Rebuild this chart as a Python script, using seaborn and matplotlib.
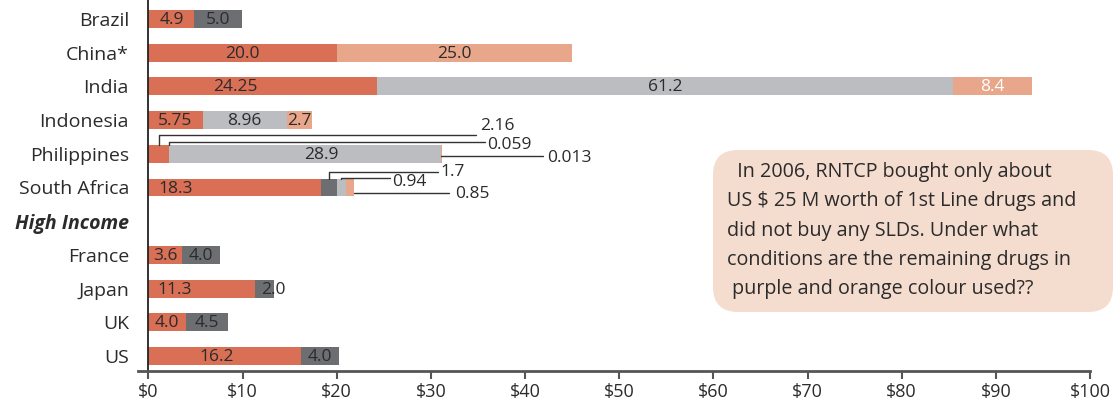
import matplotlib
matplotlib.use("Agg")
import matplotlib.pyplot as plt
from matplotlib.patches import FancyBboxPatch
import seaborn as sns
import pandas as pd

countries = ["Brazil", "China*", "India", "Indonesia", "Philippines",
             "South Africa", "High Income", "France", "Japan", "UK", "US"]
first_line = [4.9, 20.0, 24.25, 5.75, 2.16, 18.3, 0, 3.6, 11.3, 4.0, 16.2]
second_a = [5.0, 0, 0, 0, 0.059, 1.7, 0, 4.0, 2.0, 4.5, 4.0]
second_b = [0, 0, 61.2, 8.96, 28.9, 0.94, 0, 0, 0, 0, 0]
other = [0, 25.0, 8.4, 2.7, 0.013, 0.85, 0, 0, 0, 0, 0]
x_ticks = [0, 10, 20, 30, 40, 50, 60, 70, 80, 90, 100]
headers = ["High Income"]
note = ("  In 2006, RNTCP bought only about\n"
        "US $ 25 M worth of 1st Line drugs and\n"
        "did not buy any SLDs. Under what\n"
        "conditions are the remaining drugs in\n"
        " purple and orange colour used??")

colors = ["#D96F55", "#6D6E71", "#BCBDC0", "#E8A68B"]
series = [first_line, second_a, second_b, other]

df = pd.DataFrame({"country": countries, "s0": first_line, "s1": second_a,
                   "s2": second_b, "s3": other})
df["c0"] = df["s0"]
df["c1"] = df["c0"] + df["s1"]
df["c2"] = df["c1"] + df["s2"]
df["c3"] = df["c2"] + df["s3"]

sns.set_theme(style="white")
plt.rcParams["font.family"] = ["Open Sans", "DejaVu Sans"]
txt = "#2b2b2b"

fig = plt.figure(figsize=(11.15, 4.03), dpi=100)
ax = fig.add_axes([138 / 1115, 32 / 403, (1090 - 138) / 1115, 387.4 / 403])

# stacked bars: draw cumulative totals, longest first
for k in [3, 2, 1, 0]:
    sns.barplot(data=df, y="country", x=f"c{k}", orient="h", order=countries,
                color=colors[k], saturation=1, width=0.53, linewidth=0, ax=ax)

ax.set_xlim(-1.1, 100)
ax.set_ylim(10.445, -1.05)
ax.set_xlabel("")
ax.set_ylabel("")


def fmt(v):
    s = f"{v:.3f}".rstrip("0")
    return s + "0" if s.endswith(".") else s


ph = countries.index("Philippines")
sa = countries.index("South Africa")
# thin segments get leader lines instead of inline labels
leader = {(ph, 0), (ph, 1), (ph, 3), (sa, 1), (sa, 2), (sa, 3)}
white_label = {(countries.index("India"), 3)}
# labels that sit off the segment centre in the original
label_pos = {("China*", 1): 33.4, ("India", 0): 9.2, ("India", 1): 45.1,
             ("Philippines", 2): 18.4, ("South Africa", 0): 2.9,
             ("Japan", 0): 2.8, ("Japan", 1): 13.3, ("US", 0): 7.3}
for i, c in enumerate(countries):
    left = 0
    for k, vals in enumerate(series):
        v = vals[i]
        if v > 0 and (i, k) not in leader:
            xpos = label_pos.get((c, k), left + v / 2)
            ax.text(xpos, i + 0.03, fmt(v), ha="center", va="center",
                    fontsize=12.5, color="white" if (i, k) in white_label else txt)
        left += v

lw = dict(color="#333333", lw=1.0)
top = 0.265
fs = 12.5
# Philippines 2.16
x0 = first_line[ph] / 2
ax.plot([x0, x0, 34.8], [ph - top, ph - 0.56, ph - 0.56], **lw)
ax.text(35.2, ph - 0.58, fmt(first_line[ph]), ha="left", va="bottom", fontsize=fs, color=txt)
# Philippines 0.059
x0 = first_line[ph] + second_a[ph] / 2
ax.plot([x0, x0, 35.8], [ph - top, ph - 0.35, ph - 0.35], **lw)
ax.text(36.0, ph - 0.26, fmt(second_a[ph]), ha="left", va="center", fontsize=fs, color=txt)
# Philippines 0.013
x0 = first_line[ph] + second_a[ph] + second_b[ph]
ax.plot([x0, 41.9], [ph + 0.07, ph + 0.07], **lw)
ax.text(42.4, ph + 0.12, fmt(other[ph]), ha="left", va="center", fontsize=fs, color=txt)
# South Africa 1.7
x0 = first_line[sa] + second_a[sa] / 2
ax.plot([x0, x0, 30.8], [sa - top, sa - 0.46, sa - 0.46], **lw)
ax.text(31.0, sa - 0.46, fmt(second_a[sa]), ha="left", va="center", fontsize=fs, color=txt)
# South Africa 0.94
x0 = first_line[sa] + second_a[sa] + second_b[sa] / 2
ax.plot([x0, x0, 25.7], [sa - top, sa - 0.28, sa - 0.28], **lw)
ax.text(25.9, sa - 0.16, fmt(second_b[sa]), ha="left", va="center", fontsize=fs, color=txt)
# South Africa 0.85
x0 = first_line[sa] + second_a[sa] + second_b[sa] + other[sa]
ax.plot([x0, 31.9], [sa + 0.16, sa + 0.16], **lw)
ax.text(32.6, sa + 0.19, fmt(other[sa]), ha="left", va="center", fontsize=fs, color=txt)

# axes styling
for s in ["top", "right"]:
    ax.spines[s].set_visible(False)
ax.spines["left"].set_position(("data", 0))
ax.spines["left"].set_color("#222222")
ax.spines["left"].set_linewidth(1.3)
ax.spines["bottom"].set_color("#555555")
ax.spines["bottom"].set_linewidth(2)
ax.set_xticks(x_ticks)
ax.set_xticklabels([f"${t}" for t in x_ticks], fontsize=13, color=txt)
ax.tick_params(axis="x", direction="out", length=6, width=1.5, color="#555555", pad=3, bottom=True)
ax.tick_params(axis="y", length=0, pad=14)
for lab in ax.get_yticklabels():
    lab.set_fontsize(14)
    lab.set_color(txt)
    if lab.get_text() in headers:
        lab.set_fontweight("bold")
        lab.set_fontstyle("italic")

# note box
box = FancyBboxPatch((7.13, 0.91), 4.0, 1.62, boxstyle="round,pad=0,rounding_size=0.25",
                     transform=fig.dpi_scale_trans, facecolor="#F4DCCF", edgecolor="none")
fig.add_artist(box)
fig.text(727 / 1115, 1 - 162 / 403, note, ha="left", va="top", fontsize=14.2,
         color=txt, linespacing=1.62)

fig.savefig("out.png", dpi=100)
